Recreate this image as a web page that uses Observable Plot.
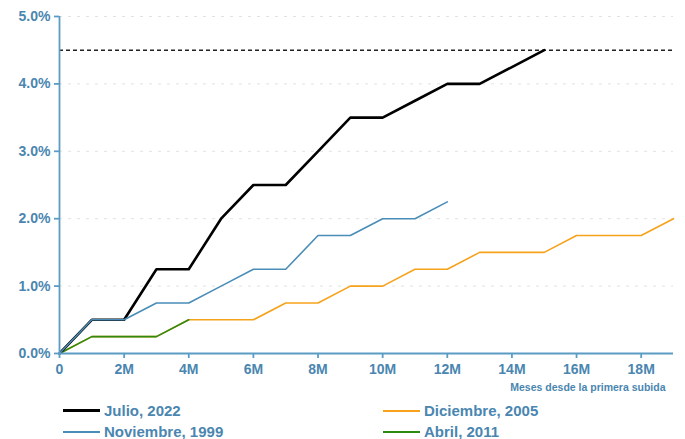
<!DOCTYPE html>
<html>
<head>
<meta charset="utf-8">
<script src="https://cdn.jsdelivr.net/npm/d3@7"></script>
<script src="https://cdn.jsdelivr.net/npm/@observablehq/plot@0.6"></script>
<style>
  body { margin: 0; background: #fff; font-family: "Liberation Sans", Arial, sans-serif; }
  #wrap { width: 685px; height: 439px; position: relative; overflow: hidden; }
  .legend { position: absolute; left: 0; top: 402px; width: 685px; }
  .item { position: absolute; display: flex; align-items: center; font-weight: bold; font-size: 15px; color: #4a86b0; white-space: nowrap; }
  .sw { width: 37px; margin-right: 4px; }
</style>
</head>
<body>
<div id="wrap"></div>
<script>
// Months since first hike
const monthsJulio2022 = [0,1,2,3,4,5,6,7,8,9,10,11,12,13,14,15];
const valuesJulio2022 = [0,0.5,0.5,1.25,1.25,2.0,2.5,2.5,3.0,3.5,3.5,3.75,4.0,4.0,4.25,4.5];

const monthsNov1999 = [0,1,2,3,4,5,6,7,8,9,10,11,12];
const valuesNov1999 = [0,0.5,0.5,0.75,0.75,1.0,1.25,1.25,1.75,1.75,2.0,2.0,2.25];

const monthsDic2005 = [0,1,2,3,4,5,6,7,8,9,10,11,12,13,14,15,16,17,18,19];
const valuesDic2005 = [0,0.25,0.25,0.25,0.5,0.5,0.5,0.75,0.75,1.0,1.0,1.25,1.25,1.5,1.5,1.5,1.75,1.75,1.75,2.0];

const monthsAbr2011 = [0,1,2,3,4];
const valuesAbr2011 = [0,0.25,0.25,0.25,0.5];

const targetRate = 4.5;
const yTicks = [0,1,2,3,4,5];
const xTicks = [0,2,4,6,8,10,12,14,16,18];

const seriesNames = ["Julio, 2022", "Noviembre, 1999", "Diciembre, 2005", "Abril, 2011"];
const seriesColors = ["#000000", "#4a8db8", "#f7a21b", "#2e8b12"];

const toRows = (m, v) => m.map((x, i) => ({x, y: v[i]}));
const rJul = toRows(monthsJulio2022, valuesJulio2022);
const rNov = toRows(monthsNov1999, valuesNov1999);
const rDic = toRows(monthsDic2005, valuesDic2005);
const rAbr = toRows(monthsAbr2011, valuesAbr2011);

const axisColor = "#5b9cc4";
const textColor = "#4a86b0";

const chart = Plot.plot({
  width: 685,
  height: 395,
  marginTop: 16,
  marginBottom: 42,
  marginLeft: 59,
  marginRight: 12,
  style: { fontFamily: "'Liberation Sans', Arial, sans-serif", background: "#fff", overflow: "visible" },
  x: { domain: [0, 19], ticks: xTicks, tickFormat: d => d === 0 ? "0" : d + "M", label: null },
  y: { domain: [0, 5], ticks: yTicks, tickFormat: d => d.toFixed(1) + "%", label: null },
  marks: [
    Plot.ruleY(yTicks.filter(d => d > 0), { stroke: "#e2e2e2", strokeDasharray: "3,6", strokeWidth: 1 }),
    Plot.ruleY([targetRate], { stroke: "#222", strokeDasharray: "4,3", strokeWidth: 1.5 }),
    Plot.line(rDic, { x: "x", y: "y", stroke: seriesColors[2], strokeWidth: 1.6 }),
    Plot.line(rAbr, { x: "x", y: "y", stroke: seriesColors[3], strokeWidth: 1.6 }),
    Plot.line(rJul, { x: "x", y: "y", stroke: seriesColors[0], strokeWidth: 2.6 }),
    Plot.line(rNov, { x: "x", y: "y", stroke: seriesColors[1], strokeWidth: 1.6 }),
    Plot.ruleX([0], { y1: 0, y2: 5, stroke: axisColor, strokeWidth: 1.8 }),
    Plot.ruleY([0], { stroke: axisColor, strokeWidth: 1.8 }),
    Plot.axisY({ ticks: yTicks, tickFormat: d => d.toFixed(1) + "%", tickSize: 5, tickPadding: 4, stroke: axisColor, strokeWidth: 1.8, color: textColor, fontSize: 14, fontWeight: "bold" }),
    Plot.axisX({ ticks: xTicks, tickFormat: d => d === 0 ? "0" : d + "M", tickSize: 5, tickPadding: 6, stroke: axisColor, strokeWidth: 1.8, color: textColor, fontSize: 14, fontWeight: "bold", label: null }),
    Plot.text(["Meses desde la primera subida"], { frameAnchor: "bottom-right", dx: -8, dy: 37, fill: textColor, fontSize: 10.5, fontWeight: "bold", textAnchor: "end" })
  ]
});

const wrap = document.getElementById("wrap");
wrap.appendChild(chart);

const legend = document.createElement("div");
legend.className = "legend";
const positions = [[63, 0], [63, 21], [383, 0], [383, 21]];
const widths = [3, 2, 2, 2];
seriesNames.forEach((name, i) => {
  const it = document.createElement("div");
  it.className = "item";
  it.style.left = positions[i][0] + "px";
  it.style.top = positions[i][1] + "px";
  const sw = document.createElement("span");
  sw.className = "sw";
  sw.style.borderTop = widths[i] + "px solid " + seriesColors[i];
  const t = document.createElement("span");
  t.textContent = name;
  it.appendChild(sw);
  it.appendChild(t);
  legend.appendChild(it);
});
wrap.appendChild(legend);
</script>
</body>
</html>
